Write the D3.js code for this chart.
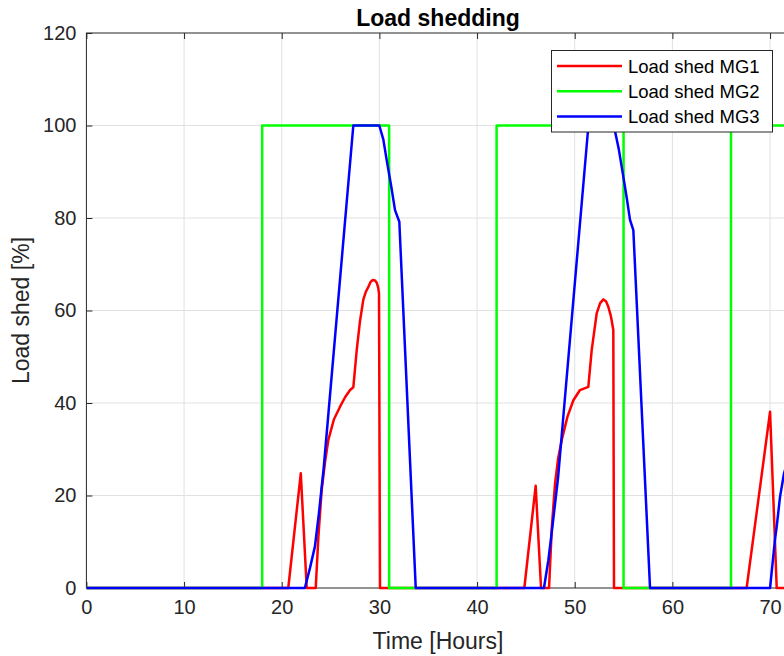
<!DOCTYPE html>
<html>
<head>
<meta charset="utf-8">
<script src="https://cdn.jsdelivr.net/npm/d3@7"></script>
<style>
  html, body { margin: 0; padding: 0; background: #fff; overflow: hidden; }
  svg { display: block; font-family: "Liberation Sans", Arial, sans-serif; }
</style>
</head>
<body>
<svg id="chart" width="784" height="656"></svg>
<script>
// ---- data ----
const xTicks = [0, 10, 20, 30, 40, 50, 60, 70];
const yTicks = [0, 20, 40, 60, 80, 100, 120];

const mg1Time  = [0, 20.67, 21.95, 22.56, 23.48, 23.75, 24.09, 24.45, 24.77, 25.35, 25.97, 26.5, 27.0, 27.33, 27.68, 28.0, 28.35, 28.6, 28.87, 29.1, 29.32, 29.55, 29.73, 29.87, 29.96, 30.06,
                  44.84, 46.0, 46.55, 47.37, 47.65, 47.98, 48.3, 48.67, 49.25, 49.86, 50.54, 51.39, 51.74, 52.25, 52.6, 52.93, 53.2, 53.44, 53.7, 53.95, 54.02,
                  67.6, 70.0, 70.68, 72];
const mg1Value = [0, 0, 24.8, 0, 0, 11, 21.2, 27.5, 32, 36.5, 39.2, 41.3, 42.8, 43.4, 51.5, 57.5, 62.3, 64, 65.1, 66.2, 66.6, 66.5, 66.0, 65.0, 63.7, 0,
                  0, 22.1, 0, 0, 13, 22.5, 28, 32, 37, 40.6, 42.8, 43.5, 51.5, 59.4, 61.6, 62.4, 62.0, 60.8, 58.8, 55.8, 0,
                  0, 38.1, 0, 0];

const mg2Time  = [0, 18, 18, 31, 31, 42, 42, 55, 55, 66, 66, 72];
const mg2Value = [0, 0, 100, 100, 0, 0, 100, 100, 0, 0, 100, 100];

const mg3Time  = [0, 22.37, 22.9, 23.4, 23.8, 24.3, 27.33, 29.99, 30.4, 30.75, 31.2, 31.6, 32.04, 33.72,
                  46.85, 47.3, 47.7, 48.3, 51.4, 54.0, 54.5, 54.98, 55.35, 55.66, 56.0, 57.71,
                  70.0, 70.5, 70.68, 71.02, 71.43, 72];
const mg3Value = [0, 0, 4.4, 9, 16, 26, 100, 100, 97, 92.5, 87, 81.7, 79.2, 0,
                  0, 6, 13, 24, 100, 100, 95, 88.9, 84, 79.6, 77.4, 0,
                  0, 10.4, 13.3, 19.7, 24.8, 29];

const seriesNames  = ["Load shed MG1", "Load shed MG2", "Load shed MG3"];
const seriesColors = ["#ff0000", "#00ff00", "#0000ff"];

// ---- layout ----
const svg = d3.select("#chart");
const plot = { left: 86.4, top: 33, bottom: 588, right: 789.6 };
const x = d3.scaleLinear().domain([0, 72]).range([plot.left, plot.right]);
const y = d3.scaleLinear().domain([0, 120]).range([plot.bottom, plot.top]);
const axisColor = "#262626";

// grid
const grid = svg.append("g");
grid.selectAll("line.vx").data(xTicks.filter(d => d > 0)).join("line")
  .attr("x1", d => x(d)).attr("x2", d => x(d))
  .attr("y1", plot.top).attr("y2", plot.bottom)
  .attr("stroke", "#e1e1e1").attr("stroke-width", 1);
grid.selectAll("line.hy").data(yTicks.filter(d => d > 0 && d < 120)).join("line")
  .attr("x1", plot.left).attr("x2", plot.right)
  .attr("y1", d => y(d)).attr("y2", d => y(d))
  .attr("stroke", "#e1e1e1").attr("stroke-width", 1);

// axes (ticks inward)
const xAxisB = d3.axisBottom(x).tickValues(xTicks).tickSize(-6).tickPadding(12).tickFormat(d3.format("d"));
const xAxisT = d3.axisTop(x).tickValues(xTicks).tickSize(-6).tickFormat("");
const yAxisL = d3.axisLeft(y).tickValues(yTicks).tickSize(-6).tickPadding(10).tickFormat(d3.format("d"));

function styleAxis(g) {
  g.select(".domain").remove();
  g.selectAll(".tick line").attr("stroke", axisColor).attr("stroke-width", 1);
  g.selectAll(".tick text").attr("fill", axisColor).style("font-size", "20px")
    .style("font-family", "'Liberation Sans', Arial, sans-serif");
}
svg.append("g").attr("transform", `translate(0,${plot.bottom})`).call(xAxisB).call(styleAxis);
svg.append("g").attr("transform", `translate(0,${plot.top})`).call(xAxisT).call(styleAxis);
svg.append("g").attr("transform", `translate(${plot.left},0)`).call(yAxisL).call(styleAxis);

// box
svg.append("rect").attr("x", plot.left).attr("y", plot.top)
  .attr("width", plot.right - plot.left).attr("height", plot.bottom - plot.top)
  .attr("fill", "none").attr("stroke", axisColor).attr("stroke-width", 1);

// lines
const clip = svg.append("clipPath").attr("id", "clip").append("rect")
  .attr("x", plot.left).attr("y", plot.top - 3).attr("width", plot.right - plot.left).attr("height", plot.bottom - plot.top + 6);
const seriesData = [
  d3.zip(mg1Time, mg1Value),
  d3.zip(mg2Time, mg2Value),
  d3.zip(mg3Time, mg3Value)
];
const line = d3.line().x(d => x(d[0])).y(d => y(d[1]));
svg.append("g").attr("clip-path", "url(#clip)")
  .selectAll("path").data(seriesData).join("path")
  .attr("d", line).attr("fill", "none")
  .attr("stroke", (d, i) => seriesColors[i]).attr("stroke-width", 2.5)
  .attr("stroke-linejoin", "round");

// title and labels
svg.append("text").attr("x", (plot.left + plot.right) / 2).attr("y", 26)
  .attr("text-anchor", "middle").style("font-size", "23px").style("font-weight", "bold")
  .attr("fill", "#000").text("Load shedding");
svg.append("text").attr("x", (plot.left + plot.right) / 2).attr("y", 649)
  .attr("text-anchor", "middle").style("font-size", "23px").attr("fill", axisColor)
  .text("Time [Hours]");
svg.append("text").attr("transform", `translate(29,${(plot.top + plot.bottom) / 2}) rotate(-90)`)
  .attr("text-anchor", "middle").style("font-size", "23px").attr("fill", axisColor)
  .text("Load shed [%]");

// legend
const lg = svg.append("g");
lg.append("rect").attr("x", 551.5).attr("y", 50.5).attr("width", 221).attr("height", 81.5)
  .attr("fill", "#fff").attr("stroke", axisColor).attr("stroke-width", 1);
const rows = lg.selectAll("g.row").data(seriesNames).join("g")
  .attr("transform", (d, i) => `translate(0,${66 + i * 25.3})`);
rows.append("line").attr("x1", 557).attr("x2", 622).attr("y1", 0).attr("y2", 0)
  .attr("stroke", (d, i) => seriesColors[i]).attr("stroke-width", 2.5);
rows.append("text").attr("x", 628).attr("y", 6.5).style("font-size", "18.5px")
  .attr("fill", "#000").text(d => d);
</script>
</body>
</html>
